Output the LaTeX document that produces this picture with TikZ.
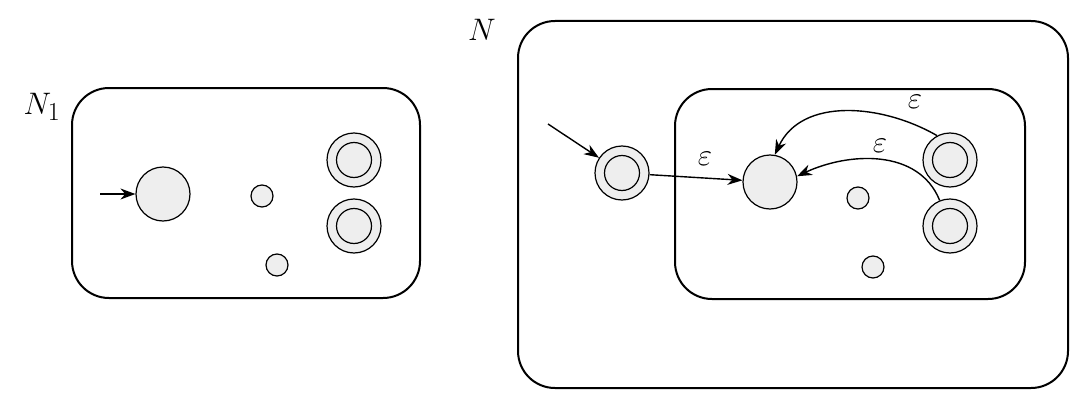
\documentclass[tikz,border=0pt]{standalone}
\usetikzlibrary{arrows.meta}
\tikzset{
  box/.style={draw, line width=2pt, rounded corners=37pt},
  st/.style={circle, draw, line width=1.2pt, fill=gray!13, inner sep=0pt},
  big/.style={st, minimum size=54pt},
  tiny/.style={st, minimum size=22pt},
  acc/.style={st, minimum size=54pt, path picture={\draw[line width=1.2pt] (path picture bounding box.center) circle (17.5pt);}},
  edge/.style={line width=1.4pt, -{Stealth[length=15pt,width=11pt]}},
  lbl/.style={font=\fontsize{24.88}{30}\selectfont, scale=1.25}
}
\begin{document}
\begin{tikzpicture}[x=1pt,y=1pt]
\useasboundingbox (0,0) rectangle (1092,408);
% left machine
\draw[box] (72,320) rectangle (420,110);
\node[lbl] (n1) at (42,301) {$N_1$};
\node[big] (s0) at (163,214) {};
\coordinate (i0) at (100,214);
\draw[edge] (i0) -- (s0);
\node[tiny] (q1) at (262,212) {};
\node[tiny] (q2) at (277,143) {};
\node[acc] (f1) at (354,248) {};
\node[acc] (f2) at (354,182) {};
% right machine
\draw[box] (518,387) rectangle (1068,20);
\draw[box] (675,319) rectangle (1025,109);
\node[lbl] (n) at (482,378) {$N$};
\node[acc] (s) at (622,235) {};
\coordinate (i1) at (548,284);
\draw[edge] (i1) -- (s);
\node[big] (m) at (770,226) {};
\node[tiny] (r1) at (858,210) {};
\node[tiny] (r2) at (873,141) {};
\node[acc] (a1) at (950,248) {};
\node[acc] (a2) at (950,182) {};
\draw[edge] (s) -- (m);
\draw[edge] (a1.118) to[out=150,in=65] (m.80);
\draw[edge] (a2.112) to[out=112,in=25] (m.12);
\node[lbl] (e0) at (705,249) {$\varepsilon$};
\node[lbl] (e1) at (915,306) {$\varepsilon$};
\node[lbl] (e2) at (880,262) {$\varepsilon$};
\end{tikzpicture}
\end{document}
